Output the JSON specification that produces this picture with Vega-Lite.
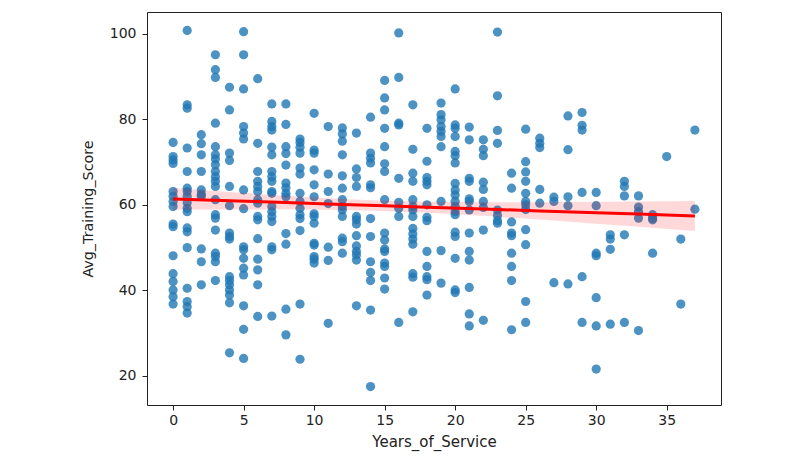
{
  "$schema": "https://vega.github.io/schema/vega-lite/v6.json",
  "autosize": "none",
  "width": 574,
  "height": 393,
  "padding": {"left": 147, "top": 12, "right": 79, "bottom": 55},
  "datasets": {
    "points": [
      {"years":0,"score":74.6},{"years":0,"score":71.3},{"years":0,"score":70.5},{"years":0,"score":69.7},{"years":0,"score":63.1},{"years":0,"score":62},{"years":0,"score":60.8},{"years":0,"score":59.6},{"years":0,"score":55.5},{"years":0,"score":54.9},{"years":0,"score":48.1},{"years":0,"score":43.9},{"years":0,"score":42.1},{"years":0,"score":40.1},{"years":0,"score":38.5},{"years":0,"score":36.8},
      {"years":1,"score":100.8},{"years":1,"score":83.4},{"years":1,"score":82.6},{"years":1,"score":73.3},{"years":1,"score":67.8},{"years":1,"score":63.9},{"years":1,"score":63.1},{"years":1,"score":62},{"years":1,"score":60.5},{"years":1,"score":59.2},{"years":1,"score":58.4},{"years":1,"score":54.6},{"years":1,"score":53.7},{"years":1,"score":50},{"years":1,"score":40.5},{"years":1,"score":37.4},{"years":1,"score":36.2},{"years":1,"score":34.7},
      {"years":2,"score":76.4},{"years":2,"score":74.3},{"years":2,"score":71.7},{"years":2,"score":67.8},{"years":2,"score":63.5},{"years":2,"score":62.5},{"years":2,"score":62},{"years":2,"score":49.7},{"years":2,"score":46.7},{"years":2,"score":41.3},
      {"years":3,"score":95.1},{"years":3,"score":91.6},{"years":3,"score":89.8},{"years":3,"score":79.1},{"years":3,"score":73.6},{"years":3,"score":71.7},{"years":3,"score":70.7},{"years":3,"score":69.4},{"years":3,"score":67.8},{"years":3,"score":66.6},{"years":3,"score":65.5},{"years":3,"score":64.3},{"years":3,"score":61.2},{"years":3,"score":57.7},{"years":3,"score":56.9},{"years":3,"score":54.1},{"years":3,"score":48.7},{"years":3,"score":47.9},{"years":3,"score":46.7},{"years":3,"score":42.3},
      {"years":4,"score":87.5},{"years":4,"score":82.2},{"years":4,"score":72.1},{"years":4,"score":70.4},{"years":4,"score":64.3},{"years":4,"score":59.8},{"years":4,"score":53.4},{"years":4,"score":52.6},{"years":4,"score":52},{"years":4,"score":43.2},{"years":4,"score":42.3},{"years":4,"score":41.3},{"years":4,"score":40.1},{"years":4,"score":38.9},{"years":4,"score":37.1},{"years":4,"score":25.4},
      {"years":5,"score":100.5},{"years":5,"score":95.1},{"years":5,"score":87.1},{"years":5,"score":78.3},{"years":5,"score":76.8},{"years":5,"score":75.4},{"years":5,"score":63.5},{"years":5,"score":59.1},{"years":5,"score":50.2},{"years":5,"score":49.5},{"years":5,"score":47.5},{"years":5,"score":45.2},{"years":5,"score":43.6},{"years":5,"score":36.4},{"years":5,"score":30.9},{"years":5,"score":24.1},
      {"years":6,"score":89.5},{"years":6,"score":74.4},{"years":6,"score":67.8},{"years":6,"score":65.5},{"years":6,"score":64.3},{"years":6,"score":63.1},{"years":6,"score":61.2},{"years":6,"score":60.4},{"years":6,"score":57.3},{"years":6,"score":56.5},{"years":6,"score":52.1},{"years":6,"score":47.3},{"years":6,"score":44.8},{"years":6,"score":41.3},{"years":6,"score":33.9},
      {"years":7,"score":83.6},{"years":7,"score":79.5},{"years":7,"score":78.3},{"years":7,"score":77.5},{"years":7,"score":73.5},{"years":7,"score":71.7},{"years":7,"score":67.8},{"years":7,"score":66.6},{"years":7,"score":65.5},{"years":7,"score":63.1},{"years":7,"score":62.7},{"years":7,"score":59.6},{"years":7,"score":58.4},{"years":7,"score":57.3},{"years":7,"score":56.1},{"years":7,"score":50.2},{"years":7,"score":49.5},{"years":7,"score":34},
      {"years":8,"score":83.6},{"years":8,"score":78.8},{"years":8,"score":73.6},{"years":8,"score":72},{"years":8,"score":69.3},{"years":8,"score":65.1},{"years":8,"score":64},{"years":8,"score":62.7},{"years":8,"score":61.9},{"years":8,"score":53.3},{"years":8,"score":50.8},{"years":8,"score":35.6},{"years":8,"score":29.6},
      {"years":9,"score":75.4},{"years":9,"score":74.6},{"years":9,"score":73.5},{"years":9,"score":72.1},{"years":9,"score":68.6},{"years":9,"score":67.2},{"years":9,"score":62.7},{"years":9,"score":60.8},{"years":9,"score":59.2},{"years":9,"score":57.7},{"years":9,"score":56.8},{"years":9,"score":54},{"years":9,"score":36.8},{"years":9,"score":23.9},
      {"years":10,"score":81.4},{"years":10,"score":72.8},{"years":10,"score":72.1},{"years":10,"score":68.2},{"years":10,"score":64.7},{"years":10,"score":61.9},{"years":10,"score":57.9},{"years":10,"score":57.3},{"years":10,"score":55.7},{"years":10,"score":51},{"years":10,"score":50.6},{"years":10,"score":47.9},{"years":10,"score":47.3},{"years":10,"score":46.4},
      {"years":11,"score":78.3},{"years":11,"score":67.2},{"years":11,"score":63.1},{"years":11,"score":60.3},{"years":11,"score":50.1},{"years":11,"score":47},{"years":11,"score":32.3},
      {"years":12,"score":78},{"years":12,"score":76.6},{"years":12,"score":74.9},{"years":12,"score":71.7},{"years":12,"score":66.8},{"years":12,"score":63.9},{"years":12,"score":61.2},{"years":12,"score":59.6},{"years":12,"score":58.8},{"years":12,"score":57.3},{"years":12,"score":52.2},{"years":12,"score":51.4},{"years":12,"score":48.7},
      {"years":13,"score":76.8},{"years":13,"score":68.4},{"years":13,"score":66.4},{"years":13,"score":64.3},{"years":13,"score":57.3},{"years":13,"score":56.5},{"years":13,"score":55.5},{"years":13,"score":52.8},{"years":13,"score":50.4},{"years":13,"score":49.1},{"years":13,"score":48.3},{"years":13,"score":47.1},{"years":13,"score":36.4},
      {"years":14,"score":80.5},{"years":14,"score":72.1},{"years":14,"score":70.9},{"years":14,"score":69.8},{"years":14,"score":64.7},{"years":14,"score":64},{"years":14,"score":56.8},{"years":14,"score":52.6},{"years":14,"score":46.7},{"years":14,"score":44.2},{"years":14,"score":42.3},{"years":14,"score":35.4},{"years":14,"score":17.5},
      {"years":15,"score":89.1},{"years":15,"score":85},{"years":15,"score":82.2},{"years":15,"score":77.9},{"years":15,"score":73.6},{"years":15,"score":69.6},{"years":15,"score":67.8},{"years":15,"score":61.2},{"years":15,"score":53.4},{"years":15,"score":51.8},{"years":15,"score":49.7},{"years":15,"score":49.1},{"years":15,"score":46.4},{"years":15,"score":45.6},{"years":15,"score":42.9},{"years":15,"score":40.3},
      {"years":16,"score":100.2},{"years":16,"score":89.8},{"years":16,"score":79.1},{"years":16,"score":78.7},{"years":16,"score":66.2},{"years":16,"score":60.6},{"years":16,"score":59.2},{"years":16,"score":57.3},{"years":16,"score":32.5},
      {"years":17,"score":83.4},{"years":17,"score":73},{"years":17,"score":67.4},{"years":17,"score":65.5},{"years":17,"score":61.2},{"years":17,"score":59.6},{"years":17,"score":58.8},{"years":17,"score":57.3},{"years":17,"score":54.5},{"years":17,"score":53.2},{"years":17,"score":52},{"years":17,"score":50.8},{"years":17,"score":43.9},{"years":17,"score":43.1},{"years":17,"score":35},
      {"years":18,"score":77.9},{"years":18,"score":70.2},{"years":18,"score":66.4},{"years":18,"score":65.5},{"years":18,"score":64.7},{"years":18,"score":60},{"years":18,"score":57.1},{"years":18,"score":56.3},{"years":18,"score":49.1},{"years":18,"score":45.6},{"years":18,"score":43.2},{"years":18,"score":42.5},{"years":18,"score":38.9},
      {"years":19,"score":83.8},{"years":19,"score":81.1},{"years":19,"score":79.9},{"years":19,"score":78.3},{"years":19,"score":77.2},{"years":19,"score":76},{"years":19,"score":73.6},{"years":19,"score":60.8},{"years":19,"score":49.3},{"years":19,"score":41.7},
      {"years":20,"score":87.1},{"years":20,"score":78.7},{"years":20,"score":77.9},{"years":20,"score":76},{"years":20,"score":72.5},{"years":20,"score":71.5},{"years":20,"score":69.8},{"years":20,"score":65},{"years":20,"score":63.5},{"years":20,"score":62.3},{"years":20,"score":60.8},{"years":20,"score":59.6},{"years":20,"score":58.4},{"years":20,"score":57.7},{"years":20,"score":53.6},{"years":20,"score":52.6},{"years":20,"score":47.5},{"years":20,"score":40.1},{"years":20,"score":39.5},
      {"years":21,"score":78.2},{"years":21,"score":75.2},{"years":21,"score":66.2},{"years":21,"score":65.5},{"years":21,"score":61.4},{"years":21,"score":60.8},{"years":21,"score":58.8},{"years":21,"score":53.4},{"years":21,"score":49.1},{"years":21,"score":47.1},{"years":21,"score":40.7},{"years":21,"score":34.5},{"years":21,"score":31.7},
      {"years":22,"score":75.2},{"years":22,"score":73},{"years":22,"score":71.5},{"years":22,"score":65.3},{"years":22,"score":63.6},{"years":22,"score":60.8},{"years":22,"score":59.4},{"years":22,"score":54.1},{"years":22,"score":33},
      {"years":23,"score":100.4},{"years":23,"score":85.5},{"years":23,"score":77.4},{"years":23,"score":74.4},{"years":23,"score":58.8},{"years":23,"score":57.5},{"years":23,"score":56.3},{"years":23,"score":55.7},
      {"years":24,"score":67.4},{"years":24,"score":63.9},{"years":24,"score":56},{"years":24,"score":53.4},{"years":24,"score":52.8},{"years":24,"score":48.7},{"years":24,"score":45.6},{"years":24,"score":42.3},{"years":24,"score":30.8},
      {"years":25,"score":77.7},{"years":25,"score":70.1},{"years":25,"score":67.7},{"years":25,"score":65.5},{"years":25,"score":62.7},{"years":25,"score":60.8},{"years":25,"score":60},{"years":25,"score":58.9},{"years":25,"score":54.2},{"years":25,"score":50.7},{"years":25,"score":37.4},{"years":25,"score":32.5},
      {"years":26,"score":75.6},{"years":26,"score":74.4},{"years":26,"score":73.4},{"years":26,"score":63.6},{"years":26,"score":60.4},
      {"years":27,"score":61.8},{"years":27,"score":60.8},{"years":27,"score":41.8},
      {"years":28,"score":80.8},{"years":28,"score":72.9},{"years":28,"score":61.9},{"years":28,"score":59.8},{"years":28,"score":41.5},
      {"years":29,"score":81.6},{"years":29,"score":78.6},{"years":29,"score":77.5},{"years":29,"score":62.9},{"years":29,"score":43.2},{"years":29,"score":32.5},
      {"years":30,"score":62.9},{"years":30,"score":59.8},{"years":30,"score":48.7},{"years":30,"score":48.1},{"years":30,"score":38.3},{"years":30,"score":31.7},{"years":30,"score":21.6},
      {"years":31,"score":53},{"years":31,"score":52},{"years":31,"score":49.6},{"years":31,"score":32.1},
      {"years":32,"score":65.5},{"years":32,"score":64.3},{"years":32,"score":62.1},{"years":32,"score":53},{"years":32,"score":32.5},
      {"years":33,"score":62.1},{"years":33,"score":59.5},{"years":33,"score":58.4},{"years":33,"score":56.9},{"years":33,"score":30.6},
      {"years":34,"score":57.7},{"years":34,"score":56.9},{"years":34,"score":56.5},{"years":34,"score":48.7},
      {"years":35,"score":71.3},
      {"years":36,"score":52},{"years":36,"score":36.8},
      {"years":37,"score":77.5},{"years":37,"score":59}
    ],
    "fit": [
      {"years":0,"score":61.4,"lo":58.85,"hi":63.95},
      {"years":4,"score":60.97,"lo":58.93,"hi":63.01},
      {"years":8,"score":60.54,"lo":58.95,"hi":62.13},
      {"years":12,"score":60.1,"lo":58.82,"hi":61.38},
      {"years":15,"score":59.78,"lo":58.58,"hi":60.98},
      {"years":18,"score":59.46,"lo":58.18,"hi":60.74},
      {"years":22,"score":59.02,"lo":57.43,"hi":60.61},
      {"years":26,"score":58.59,"lo":56.55,"hi":60.63},
      {"years":30,"score":58.16,"lo":55.61,"hi":60.71},
      {"years":33,"score":57.84,"lo":54.89,"hi":60.79},
      {"years":37,"score":57.4,"lo":53.9,"hi":60.9}
    ]
  },
  "encoding": {
    "x": {
      "field": "years",
      "type": "quantitative",
      "title": "Years_of_Service",
      "scale": {"domain": [-1.85, 38.85], "nice": false, "zero": false},
      "axis": {"values": [0, 5, 10, 15, 20, 25, 30, 35], "titlePadding": 7, "titleFontSize": 15}
    },
    "y": {
      "field": "score",
      "type": "quantitative",
      "title": "Avg_Training_Score",
      "scale": {"domain": [13.2, 105.1], "nice": false, "zero": false},
      "axis": {"values": [20, 40, 60, 80, 100], "titlePadding": 14, "titleFontSize": 14.3}
    }
  },
  "layer": [
    {
      "data": {"name": "points"},
      "mark": {"type": "circle", "size": 85, "color": "#1f77b4", "opacity": 0.8}
    },
    {
      "data": {"name": "fit"},
      "mark": {"type": "area", "color": "red", "opacity": 0.15},
      "encoding": {"y": {"field": "lo", "type": "quantitative"}, "y2": {"field": "hi"}}
    },
    {
      "data": {"name": "fit"},
      "mark": {"type": "line", "color": "red", "strokeWidth": 3},
      "encoding": {}
    }
  ],
  "config": {
    "font": "DejaVu Sans",
    "background": "white",
    "view": {"stroke": "#222", "strokeWidth": 1},
    "axis": {
      "grid": false,
      "domain": false,
      "tickColor": "#222",
      "tickSize": 5,
      "labelFontSize": 14,
      "labelColor": "#222",
      "labelFont": "DejaVu Sans",
      "titleFontWeight": "normal",
      "titleColor": "#222",
      "titleFont": "DejaVu Sans"
    },
    "axisY": {"labelPadding": 6},
    "axisX": {"labelPadding": 3}
  }
}
